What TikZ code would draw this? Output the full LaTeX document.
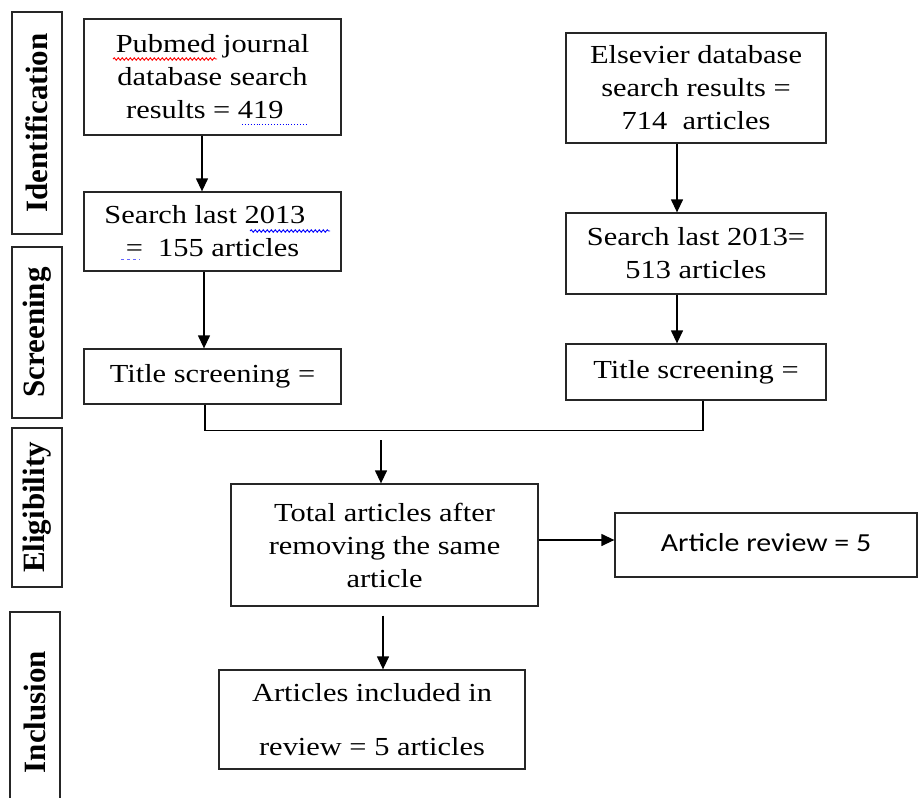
\documentclass[tikz,border=0pt]{standalone}
\usepackage{fontspec}
\usepackage{graphicx}
\setmainfont{Liberation Serif}[FakeStretch=1.17]
\newfontfamily\labfont{Liberation Serif}
\newfontfamily\calfont{Carlito}[FakeStretch=1.15]
\usetikzlibrary{arrows.meta,decorations.pathmorphing}
\begin{document}
\begin{tikzpicture}[x=1pt,y=-1pt,
  box/.style={draw=black!85, line width=1.3pt, align=center, inner sep=0pt,
    font=\fontsize{26}{33}\selectfont},
  lab/.style={draw=black!85, line width=1.4pt, rotate=90, inner sep=0pt,
    font=\labfont\bfseries\fontsize{31}{32}\selectfont},
  conn/.style={line width=1.3pt, black},
  arr/.style={conn, -{Triangle[length=13pt,width=12pt]}},
  squig/.style={decorate, decoration={snake, amplitude=1.2pt, segment length=4pt}, line width=0.9pt}]
\useasboundingbox (0,0) rectangle (919,798);
\fill[white] (0,0) rectangle (919,798);

% side labels
\node[lab, minimum width=222pt, minimum height=50pt] (lid) at (37,123) {Identification};
\node[lab, minimum width=171pt, minimum height=50pt] (lscr) at (37,332.5) {Screening};
\node[lab, minimum width=159pt, minimum height=50pt] (lel) at (37,507.5) {Eligibility};
\node[lab, minimum width=200pt, minimum height=50pt] (lin) at (35,712) {Inclusion};

% left column
\node[box, minimum width=257pt, minimum height=116pt] (pub) at (212.5,77)
  {Pubmed journal\\database search\\results = 419\phantom{x}};
\node[box, minimum width=257pt, minimum height=79pt] (sl) at (212.5,231.5)
  {Search last 2013\phantom{x}\\=~ 155 articles};
\node[box, minimum width=257pt, minimum height=55pt] (tl) at (212.5,376.5)
  {Title screening =};

% right column
\node[box, minimum width=260pt, minimum height=110pt] (els) at (696,88)
  {Elsevier database\\search results =\\714~ articles};
\node[box, minimum width=260pt, minimum height=81pt] (sr) at (696,253.5)
  {Search last 2013=\\513 articles};
\node[box, minimum width=260pt, minimum height=56pt] (tr) at (696,372)
  {Title screening =};

% eligibility
\node[box, minimum width=307pt, minimum height=122pt] (tot) at (384.5,545)
  {Total articles after\\removing the same\\article};
\node[box, minimum width=302pt, minimum height=64pt, font=\calfont\fontsize{26}{33}\selectfont] (rev) at (766,545)
  {\raisebox{6pt}{Article review = 5}};

% inclusion
\node[box, minimum width=306pt, minimum height=99pt] (inc) at (372,719.5)
  {Articles included in\\[21pt]review = 5 articles};

% connectors
\draw[arr] ([xshift=-10.5pt]pub.south) -- ([xshift=-10.5pt]sl.north);
\draw[arr] ([xshift=-8.5pt]sl.south) -- ([xshift=-8.5pt]tl.north);
\draw[arr] ([xshift=-19pt]els.south) -- ([xshift=-19pt]sr.north);
\draw[arr] ([xshift=-19pt]sr.south) -- ([xshift=-19pt]tr.north);
\draw[conn] ([xshift=-7.5pt]tl.south) -- ++(0,26) -| ([xshift=7pt]tr.south);
\coordinate (mg) at (381,440);
\draw[arr] (mg) -- (mg |- tot.north);
\draw[arr] ([yshift=5pt]tot.east) -- ([yshift=5pt]rev.west);
\draw[arr] ([xshift=-1.5pt,yshift=-9pt]tot.south) -- ([xshift=-1.5pt]tot.south |- inc.north);

% spell-check marks
\draw[red, squig] (113,59) -- (217,59);
\draw[blue, line width=0.9pt, dotted] (242,124) -- (307,124);
\draw[blue, squig] (250,231) -- (330,231);
\draw[blue!60, line width=0.8pt, dashed] (121,259) -- (140,259);
\end{tikzpicture}
\end{document}
